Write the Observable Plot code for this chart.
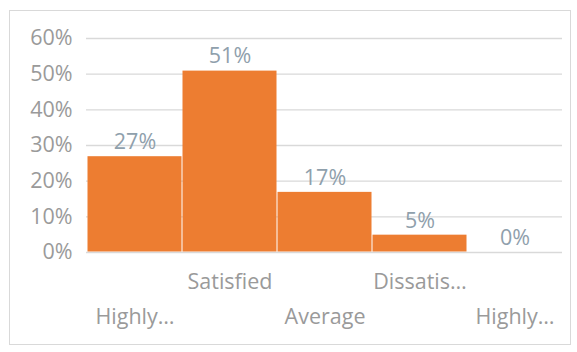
<!DOCTYPE html>
<html>
<head>
<meta charset="utf-8">
<script src="https://cdn.jsdelivr.net/npm/d3@7"></script>
<script src="https://cdn.jsdelivr.net/npm/@observablehq/plot@0.6"></script>
<style>
  html, body { margin: 0; padding: 0; background: #fff; }
  #wrap { position: relative; width: 577px; height: 352px; }
  #border { position: absolute; left: 9px; top: 10px; width: 560px; height: 333px; border: 1px solid #d9d9d9; pointer-events: none; }
</style>
</head>
<body>
<div id="wrap"><div id="border"></div></div>
<script>
const categories = ["Highly Satisfied", "Satisfied", "Average", "Dissatisfied", "Highly Dissatisfied"];
const tickLabels = ["Highly…", "Satisfied", "Average", "Dissatis…", "Highly…"];
const values = [0.27, 0.51, 0.17, 0.05, 0.0];
const yTicks = [0, 0.1, 0.2, 0.3, 0.4, 0.5, 0.6];

const data = categories.map((c, i) => ({cat: c, label: tickLabels[i], value: values[i], row: i % 2}));
const pct = d3.format(".0%");
const font = "'Open Sans', sans-serif";

const chart = Plot.plot({
  width: 577,
  height: 352,
  marginLeft: 86,
  marginRight: 15,
  marginTop: 38,
  marginBottom: 100,
  style: {fontFamily: font, fontSize: "21px", color: "#9a9a9a", background: "transparent"},
  x: {domain: categories, padding: 0, axis: null},
  y: {domain: [0, 0.6], axis: null},
  marks: [
    Plot.ruleY(yTicks, {stroke: "#d9d9d9", strokeWidth: 1.3}),
    Plot.barY(data, {x: "cat", y: "value", fill: "#ED7D31", inset: 0.5}),
    Plot.text(yTicks, {y: d => d, text: d => pct(d), frameAnchor: "left", textAnchor: "end", dx: -14, fill: "#9a9a9a", fontSize: 21.5}),
    Plot.text(data, {x: "cat", y: "value", text: d => pct(d.value), dy: -14, fill: "#8fa0ac", fontSize: 21.5}),
    Plot.text(data.filter(d => d.row === 1), {x: "cat", text: "label", frameAnchor: "bottom", dy: 36, fill: "#9a9a9a", fontSize: 21.5}),
    Plot.text(data.filter(d => d.row === 0), {x: "cat", text: "label", frameAnchor: "bottom", dy: 71, fill: "#9a9a9a", fontSize: 21.5})
  ]
});
document.getElementById("wrap").appendChild(chart);
</script>
</body>
</html>
